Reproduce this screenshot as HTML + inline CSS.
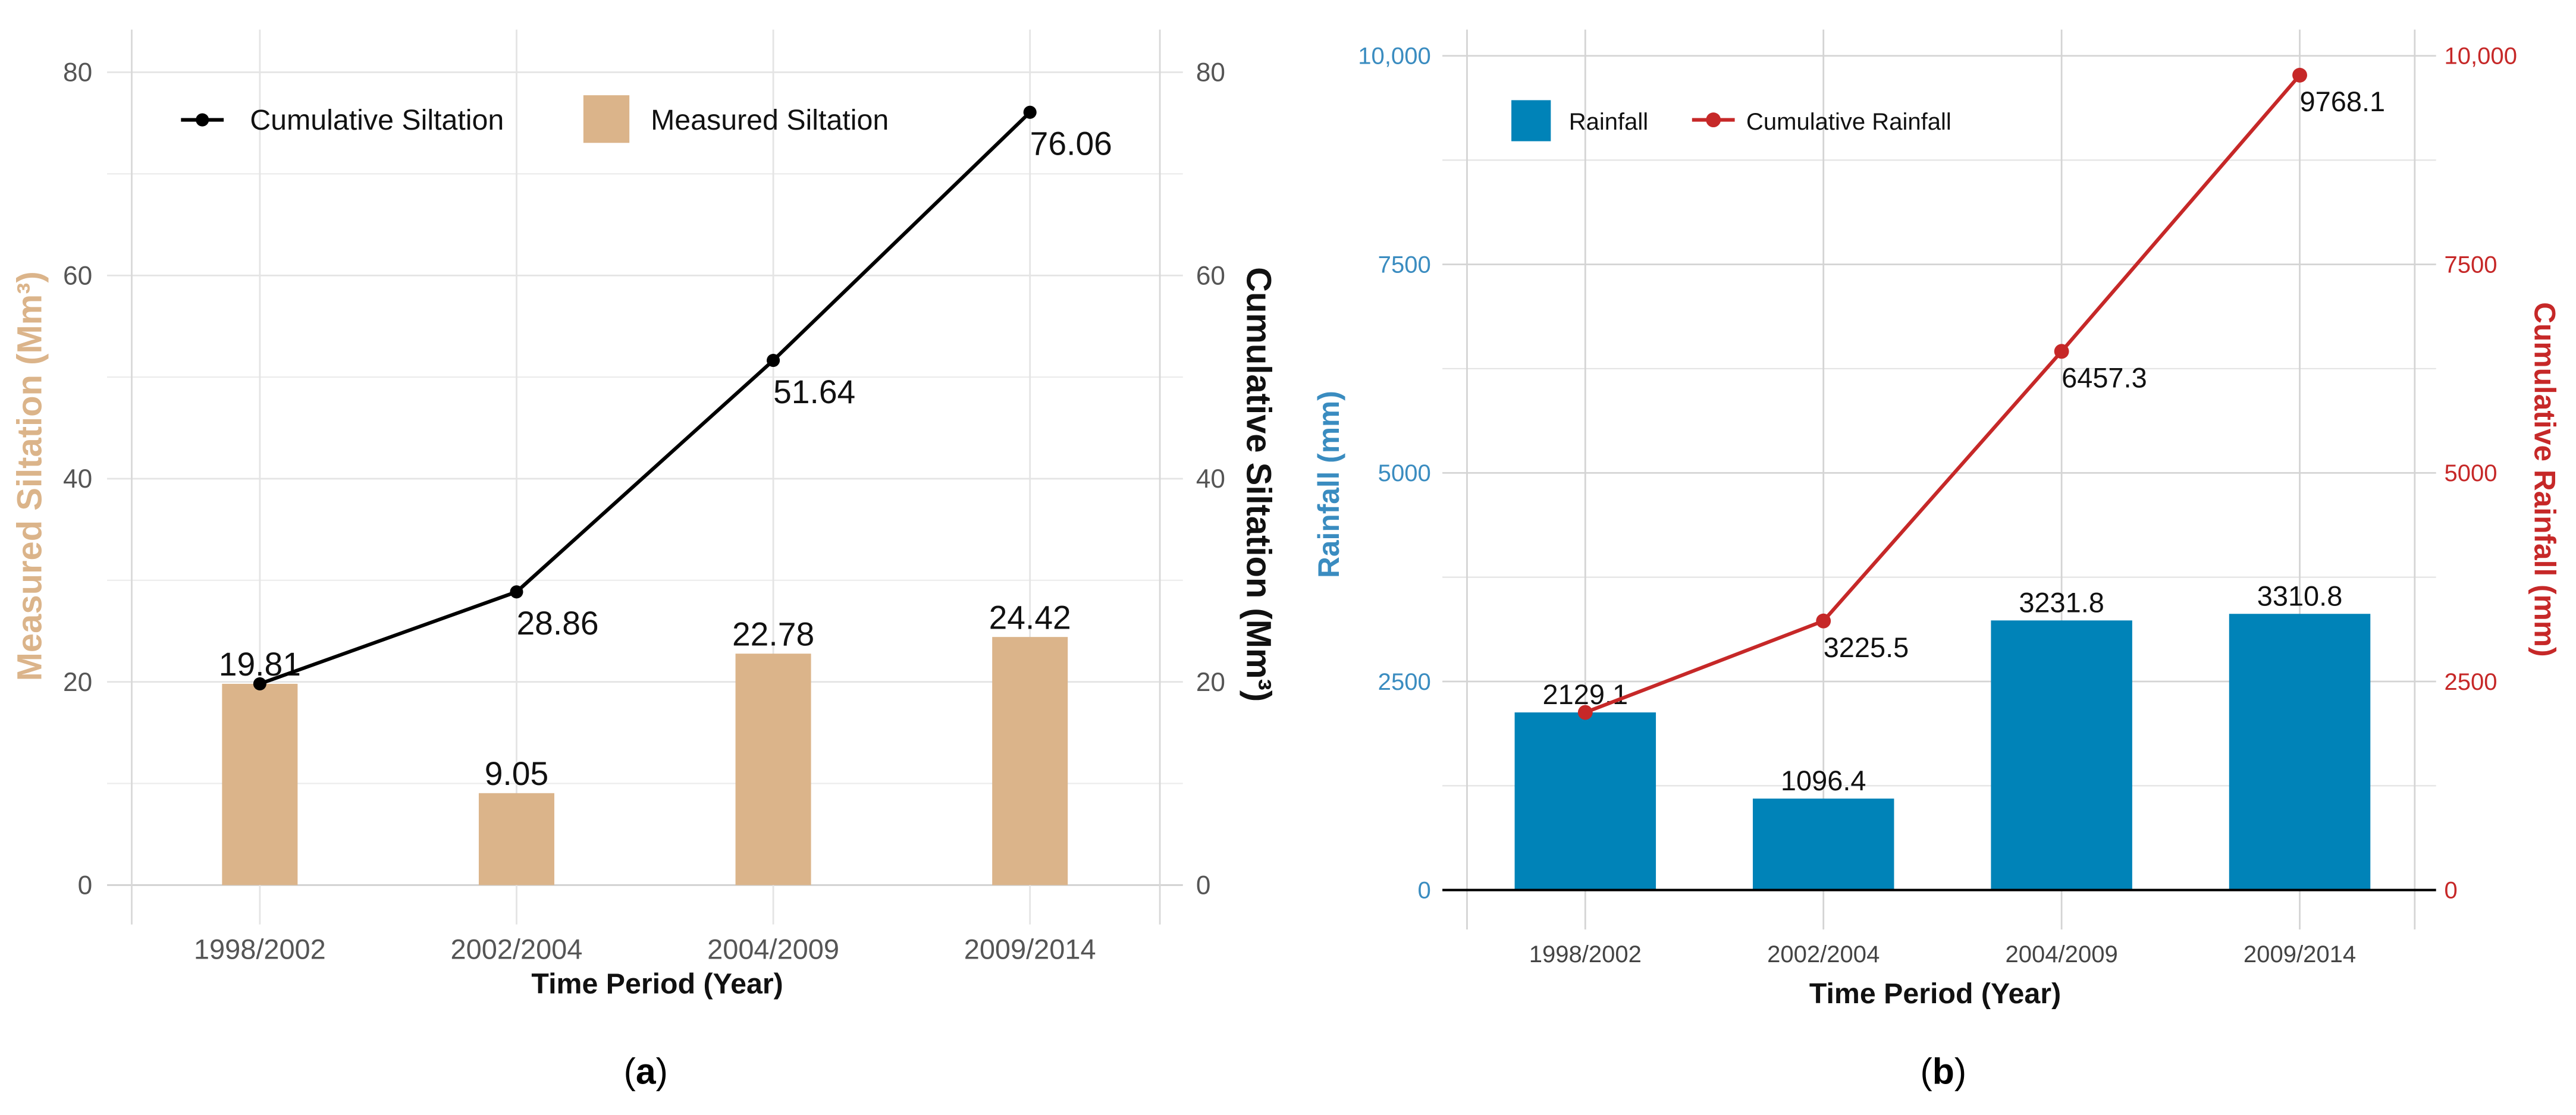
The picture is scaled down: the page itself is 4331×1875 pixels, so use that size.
<!DOCTYPE html>
<html><head><meta charset="utf-8"><style>
html,body{margin:0;padding:0;background:#fff;}
svg{display:block;}
text{font-family:"Liberation Sans",sans-serif;}
</style></head><body>
<svg id="chart" width="4331" height="1875" viewBox="0 0 1568 679" xmlns="http://www.w3.org/2000/svg">
<g id="pa"></g>
<g id="pb"></g>
</svg>
<script>
const categories = ["1998/2002","2002/2004","2004/2009","2009/2014"];
const measuredSiltation = [19.81, 9.05, 22.78, 24.42];
const cumulativeSiltation = [19.81, 28.86, 51.64, 76.06];
const siltTicks = [0,20,40,60,80];
const rainfall = [2129.1, 1096.4, 3231.8, 3310.8];
const cumulativeRainfall = [2129.1, 3225.5, 6457.3, 9768.1];
const rainTicks = [0,2500,5000,7500,10000];
const rainTickLabels = ["0","2500","5000","7500","10,000"];

const NS="http://www.w3.org/2000/svg";
function mk(parent, tag, attrs, txt){
  const e=document.createElementNS(NS,tag);
  for(const k in attrs) e.setAttribute(k,attrs[k]);
  if(txt!==undefined) e.textContent=txt;
  parent.appendChild(e); return e;
}

// ---------- Panel A ----------
(function(){
  const g=document.getElementById('pa');
  const x0=158, dx=156.3, yb=539, yt=44, vmax=80;
  const xs=i=>x0+i*dx;
  const ys=v=>yb-(v/vmax)*(yb-yt);
  for(let v=10; v<80; v+=20){
    const l=mk(g,'line',{x1:65,x2:720,y1:ys(v),y2:ys(v),stroke:'#ececec','stroke-width':0.8});
    
    
  }
  siltTicks.forEach(v=>{
    const l=mk(g,'line',{x1:65,x2:720,y1:ys(v),y2:ys(v),stroke:v===0?'#cfcfcf':'#e4e4e4','stroke-width':1});
    
    
    const t=mk(g,'text',{x:56,y:ys(v)+5.5,'font-size':16,fill:'#555','text-anchor':'end'},String(v));
    
    
    const t2=mk(g,'text',{x:728,y:ys(v)+5.5,'font-size':16,fill:'#555'},String(v));
    
    
  });
  [80,706].forEach(x=>{
    const l=mk(g,'line',{x1:x,x2:x,y1:18,y2:563,stroke:'#d8d8d8','stroke-width':1});
    
    
  });
  categories.forEach((c,i)=>{
    const l=mk(g,'line',{x1:xs(i),x2:xs(i),y1:18,y2:563,stroke:'#e4e4e4','stroke-width':1});
    
    
    const t=mk(g,'text',{x:xs(i),y:584,'font-size':17,fill:'#555','text-anchor':'middle'},c);
    
    
  });
  measuredSiltation.forEach((v,i)=>{
    const r=mk(g,'rect',{x:xs(i)-23,y:ys(v),width:46,height:yb-ys(v),fill:'#dbb48a'});
    
    
    const t=mk(g,'text',{x:xs(i),y:ys(v)-5,'font-size':20,fill:'#111','text-anchor':'middle'},v.toFixed(2));
    
    
  });
  const pts=cumulativeSiltation.map((v,i)=>xs(i)+','+ys(v)).join(' ');
  const pl=mk(g,'polyline',{points:pts,fill:'none',stroke:'#000','stroke-width':2.2});
  
  
  cumulativeSiltation.forEach((v,i)=>{
    const c=mk(g,'circle',{cx:xs(i),cy:ys(v),r:4,fill:'#000'});
    
    
    if(i>0){
      const t=mk(g,'text',{x:xs(i),y:ys(v)+26,'font-size':20,fill:'#111'},v.toFixed(2));
      
      
    }
  });
  const lg=mk(g,'g',{});
  
  
  const ll=mk(lg,'line',{x1:110,x2:136,y1:73,y2:73,stroke:'#000','stroke-width':2.2});
  
  
  const lc=mk(lg,'circle',{cx:123,cy:73,r:4,fill:'#000'});
  
  
  const lt=mk(lg,'text',{x:152,y:79,'font-size':17.5,fill:'#111'},'Cumulative Siltation');
  
  
  const lr=mk(lg,'rect',{x:355,y:58,width:28,height:29,fill:'#dbb48a'});
  
  
  const lt2=mk(lg,'text',{x:396,y:79,'font-size':17.5,fill:'#111'},'Measured Siltation');
  
  
  const yt1=mk(g,'text',{x:0,y:0,'font-size':21,'font-weight':'bold',fill:'#dbb48a','text-anchor':'middle',transform:'translate(25,290) rotate(-90)'},'Measured Siltation (Mm³)');
  
  
  const yt2=mk(g,'text',{x:0,y:0,'font-size':21,'font-weight':'bold',fill:'#111','text-anchor':'middle',transform:'translate(759,295) rotate(90)'},'Cumulative Siltation (Mm³)');
  
  
  const xt=mk(g,'text',{x:400,y:605,'font-size':17.5,'font-weight':'bold',fill:'#111','text-anchor':'middle'},'Time Period (Year)');
  
  
  const cap=mk(g,'text',{x:393,y:660,'font-size':22,fill:'#000','text-anchor':'middle','font-family':'Liberation Serif, serif'},'');
  
  
  cap.innerHTML='(<tspan font-weight="bold">a</tspan>)';
})();

// ---------- Panel B ----------
(function(){
  const g=document.getElementById('pb');
  const x0=965, dx=145, yb=542, yt=34, vmax=10000;
  const xs=i=>x0+i*dx;
  const ys=v=>yb-(v/vmax)*(yb-yt);
  for(let v=1250; v<10000; v+=2500){
    const l=mk(g,'line',{x1:878,x2:1483,y1:ys(v),y2:ys(v),stroke:'#e4e4e4','stroke-width':0.8});
    
    
  }
  rainTicks.forEach((v,k)=>{
    if(v>0){
      const l=mk(g,'line',{x1:878,x2:1483,y1:ys(v),y2:ys(v),stroke:'#d4d4d4','stroke-width':1});
      
      
    }
    const t=mk(g,'text',{x:871,y:ys(v)+5,'font-size':14.5,fill:'#3a8cc0','text-anchor':'end'},rainTickLabels[k]);
    
    
    const t2=mk(g,'text',{x:1488,y:ys(v)+5,'font-size':14.5,fill:'#c62828'},rainTickLabels[k]);
    
    
  });
  [893,1470].forEach(x=>{
    const l=mk(g,'line',{x1:x,x2:x,y1:18,y2:566,stroke:'#d4d4d4','stroke-width':1});
    
    
  });
  categories.forEach((c,i)=>{
    const l=mk(g,'line',{x1:xs(i),x2:xs(i),y1:18,y2:566,stroke:'#d4d4d4','stroke-width':1});
    
    
    const t=mk(g,'text',{x:xs(i),y:586,'font-size':14.5,fill:'#444','text-anchor':'middle'},c);
    
    
  });
  rainfall.forEach((v,i)=>{
    const r=mk(g,'rect',{x:xs(i)-43,y:ys(v),width:86,height:yb-ys(v),fill:'#0083b8'});
    
    
    const t=mk(g,'text',{x:xs(i),y:ys(v)-5,'font-size':17,fill:'#111','text-anchor':'middle'},v.toFixed(1));
    
    
  });
  const ax=mk(g,'line',{x1:878,x2:1483,y1:yb,y2:yb,stroke:'#000','stroke-width':1.5});
  
  
  const pts=cumulativeRainfall.map((v,i)=>xs(i)+','+ys(v)).join(' ');
  const pl=mk(g,'polyline',{points:pts,fill:'none',stroke:'#c62828','stroke-width':2.2});
  
  
  cumulativeRainfall.forEach((v,i)=>{
    const c=mk(g,'circle',{cx:xs(i),cy:ys(v),r:4.5,fill:'#c62828'});
    
    
    if(i>0){
      const t=mk(g,'text',{x:xs(i),y:ys(v)+22,'font-size':17,fill:'#111'},v.toFixed(1));
      
      
    }
  });
  const lg=mk(g,'g',{});
  
  
  const lr=mk(lg,'rect',{x:920,y:61,width:24,height:25,fill:'#0083b8'});
  
  
  const lt=mk(lg,'text',{x:955,y:79,'font-size':14.5,fill:'#111'},'Rainfall');
  
  
  const ll=mk(lg,'line',{x1:1030,x2:1056,y1:73,y2:73,stroke:'#c62828','stroke-width':2.2});
  
  
  const lc=mk(lg,'circle',{cx:1043,cy:73,r:4.5,fill:'#c62828'});
  
  
  const lt2=mk(lg,'text',{x:1063,y:79,'font-size':14.5,fill:'#111'},'Cumulative Rainfall');
  
  
  const yt1=mk(g,'text',{x:0,y:0,'font-size':18,'font-weight':'bold',fill:'#3a8cc0','text-anchor':'middle',transform:'translate(815,295) rotate(-90)'},'Rainfall (mm)');
  
  
  const yt2=mk(g,'text',{x:0,y:0,'font-size':18,'font-weight':'bold',fill:'#c62828','text-anchor':'middle',transform:'translate(1543,292) rotate(90)'},'Cumulative Rainfall (mm)');
  
  
  const xt=mk(g,'text',{x:1178,y:611,'font-size':17.5,'font-weight':'bold',fill:'#111','text-anchor':'middle'},'Time Period (Year)');
  
  
  const cap=mk(g,'text',{x:1183,y:660,'font-size':22,fill:'#000','text-anchor':'middle','font-family':'Liberation Serif, serif'},'');
  
  
  cap.innerHTML='(<tspan font-weight="bold">b</tspan>)';
})();
</script>
</body></html>
